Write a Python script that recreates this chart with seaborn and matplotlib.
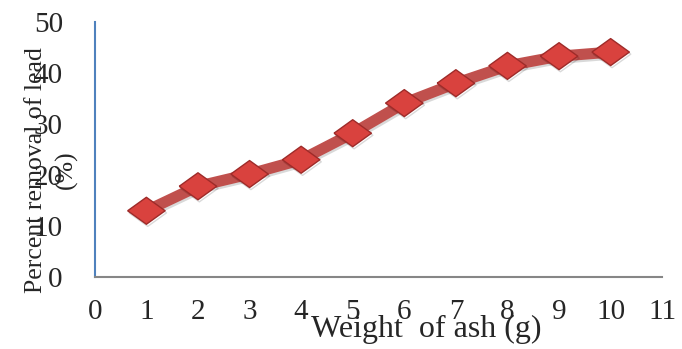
import numpy as np
import pandas as pd
import seaborn as sns
import matplotlib.pyplot as plt
import matplotlib.patheffects as pe

weight = [1, 2, 3, 4, 5, 6, 7, 8, 9, 10]
removal = [13.0, 17.8, 20.2, 23.0, 28.2, 34.1, 38.0, 41.4, 43.3, 44.1]

df = pd.DataFrame({'weight': weight, 'removal': removal})

sns.set_style('white')
plt.rcParams['font.family'] = ['Liberation Serif', 'DejaVu Serif']

fig = plt.figure(figsize=(6.82, 3.49), dpi=100)
ax = fig.add_axes([0.139, 0.206, 0.832, 0.731])

# wide diamond, like the stretched Excel marker
diamond = [(-1, 0), (0, 0.72), (1, 0), (0, -0.72), (-1, 0)]
sns.lineplot(data=df, x='weight', y='removal', ax=ax,
             color='#c0504d', linewidth=8, marker=diamond, markersize=27,
             markerfacecolor='#d9423e', markeredgecolor='#9e2b29',
             markeredgewidth=1.0,
             path_effects=[pe.SimpleLineShadow(offset=(1, -1.5), alpha=0.15),
                           pe.Normal()])

ax.set_xlim(0, 11)
ax.set_ylim(0, 50)
ax.set_xticks(range(0, 12))
ax.set_yticks(range(0, 51, 10))

for s in ['top', 'right']:
    ax.spines[s].set_visible(False)
ax.spines['left'].set_color('#4f81bd')
ax.spines['bottom'].set_color('#868686')
ax.spines['left'].set_linewidth(1.5)
ax.spines['bottom'].set_linewidth(1.5)

ax.tick_params(axis='y', direction='out', length=7, width=1.5, color='#4f81bd',
               labelsize=21, pad=16)
ax.tick_params(axis='x', direction='out', length=7, width=1.5, color='#868686',
               labelsize=21, pad=9)

ax.set_xlabel('Weight  of ash (g)', fontsize=23)
ax.xaxis.set_label_coords(0.585, -0.15)
ax.set_ylabel('Percent removal of lead\n(%)', fontsize=18.5, linespacing=1.45)
ax.yaxis.set_label_coords(-0.03, 0.42)

fig.savefig('out.png', dpi=100)
